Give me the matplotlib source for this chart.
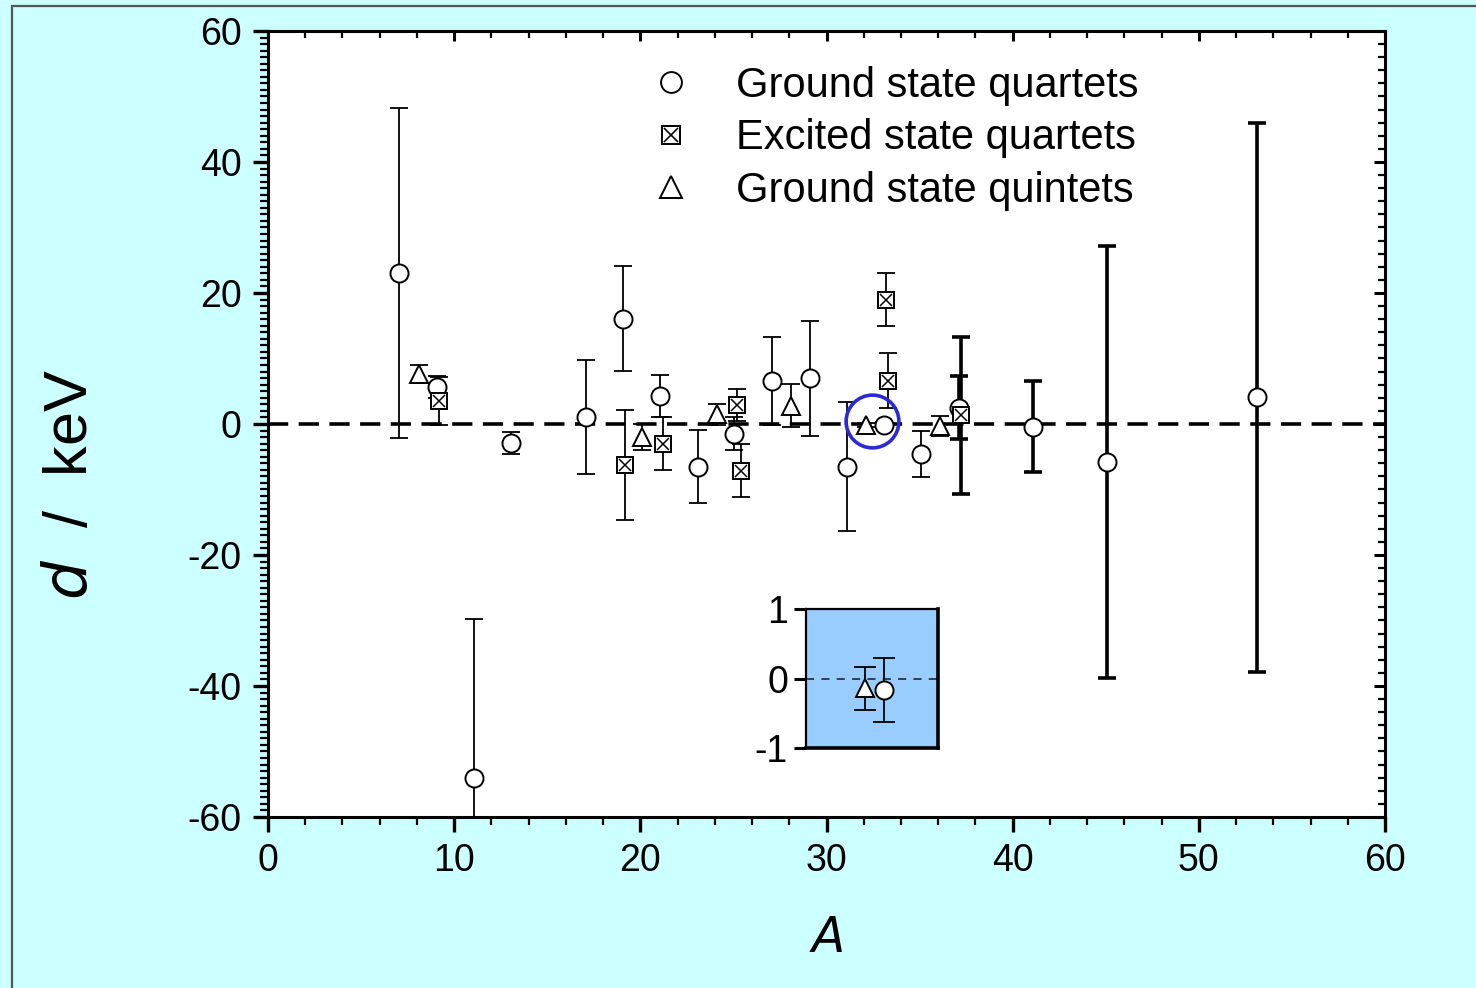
import numpy as np
import matplotlib.pyplot as plt
from matplotlib.lines import Line2D
from matplotlib.legend_handler import HandlerTuple
from matplotlib.patches import Rectangle
from matplotlib.ticker import MultipleLocator

plt.rcParams['font.family'] = ['Liberation Sans', 'DejaVu Sans']
plt.rcParams['axes.unicode_minus'] = False

# Ground state quartets
gsq_A = [7.05, 9.1, 11.05, 13.05, 17.1, 19.05, 21.05, 23.1, 25.05, 27.05,
         29.1, 31.1, 33.1, 35.1, 37.1, 41.1, 45.05, 53.1]
gsq_d = [23.0, 5.6, -54.0, -2.9, 1.1, 16.1, 4.3, -6.5, -1.5, 6.6,
         7.0, -6.5, -0.17, -4.6, 2.5, -0.4, -5.8, 4.1]
gsq_err = [25.2, 1.7, 24.2, 1.7, 8.7, 8.0, 3.2, 5.6, 2.5, 6.7,
           8.8, 9.9, 0.46, 3.5, 4.8, 7.0, 33.0, 41.9]

# Excited state quartets
exq_A = [9.2, 19.2, 21.2, 25.2, 25.4, 33.2, 33.3, 37.2]
exq_d = [3.5, -6.3, -3.0, 2.9, -7.1, 19.0, 6.6, 1.3]
exq_err = [3.6, 8.4, 4.0, 2.5, 4.1, 4.0, 4.2, 12.0]

# Ground state quintets
gsp_A = [8.1, 20.1, 24.1, 28.1, 32.1, 36.1]
gsp_d = [7.6, -2.0, 1.5, 2.8, -0.14, -0.3]
gsp_err = [1.4, 2.0, 1.6, 3.3, 0.31, 1.5]

# highlighted region (A=32, 33), blown up in the inset
ring_A, ring_d = 32.45, 0.4

W, H = 1476, 988
fig = plt.figure(figsize=(W / 100, H / 100), dpi=100)
fig.patch.set_facecolor('#ccffff')
fig.patches.append(Rectangle((12 / W, -0.05), 1.1, 1 - 6 / H + 0.05,
                             transform=fig.transFigure, fill=False,
                             edgecolor='#555555', lw=1.6))

ax = fig.add_axes([268 / W, 1 - 817 / H, 1117 / W, 786 / H])
ax.set_xlim(0, 60)
ax.set_ylim(-60, 60)


def bar_width(a):
    return 2.6 if a > 36.5 else 1.3


def draw_open(ax, A, d, err, marker, ms, xbox=False):
    for a, v, e in zip(A, d, err):
        lw = bar_width(a)
        ax.errorbar(a, v, yerr=e, fmt='none', ecolor='black', elinewidth=lw,
                    capsize=6.5, capthick=lw, zorder=2)
        ax.plot(a, v, marker=marker, ms=ms, mfc='white', mec='black',
                mew=1.4, ls='none', zorder=3)
        if xbox:
            ax.plot(a, v, marker='x', ms=ms * 0.75, mec='black', mew=1.1,
                    ls='none', zorder=4)


ax.axhline(0, color='black', lw=2.6, ls=(0, (5.6, 2.9)), zorder=1)
draw_open(ax, gsq_A, gsq_d, gsq_err, 'o', 13)
draw_open(ax, exq_A, exq_d, exq_err, 's', 11.5, xbox=True)
draw_open(ax, gsp_A, gsp_d, gsp_err, '^', 13.5)

ax.plot(ring_A, ring_d, marker='o', ms=38, mfc='none', mec='#2b2bd0',
        mew=2.6, ls='none', zorder=5)

# axes styling: outward ticks bottom/left, inward ticks top/right
for s in ax.spines.values():
    s.set_linewidth(2.2)
ax.xaxis.set_major_locator(MultipleLocator(10))
ax.xaxis.set_minor_locator(MultipleLocator(2))
ax.yaxis.set_major_locator(MultipleLocator(20))
ax.yaxis.set_minor_locator(MultipleLocator(1))
ax.tick_params(which='major', direction='out', length=11, width=2.4,
               labelsize=27, pad=8)
ax.tick_params(which='minor', direction='out', length=6, width=1.6)

top = ax.secondary_xaxis('top')
top.xaxis.set_major_locator(MultipleLocator(10))
top.xaxis.set_minor_locator(MultipleLocator(2))
top.tick_params(which='major', direction='in', length=7, width=2.2,
                labeltop=False)
top.tick_params(which='minor', direction='in', length=5, width=1.6)
right = ax.secondary_yaxis('right')
right.yaxis.set_major_locator(MultipleLocator(20))
right.yaxis.set_minor_locator(MultipleLocator(2))
right.tick_params(which='major', direction='in', length=8, width=2.2,
                  labelright=False)
right.tick_params(which='minor', direction='in', length=5, width=1.6)

ax.set_xlabel('$A$', fontsize=35, labelpad=27)
fig.text(72 / W, 1 - 485 / H, r'$d$  /  keV', rotation=90, fontsize=44,
         ha='center', va='center')

# legend
h_gsq = Line2D([], [], marker='o', ms=15, mfc='white', mec='black',
               mew=1.4, ls='none')
h_exq = (Line2D([], [], marker='s', ms=13, mfc='white', mec='black',
                mew=1.4, ls='none'),
         Line2D([], [], marker='x', ms=9.8, mec='black', mew=1.2, ls='none'))
h_gsp = Line2D([], [], marker='^', ms=15.5, mfc='white', mec='black',
               mew=1.4, ls='none')
fig.legend([h_gsq, h_exq, h_gsp],
           ['Ground state quartets', 'Excited state quartets',
            'Ground state quintets'],
           handler_map={tuple: HandlerTuple(ndivide=1)},
           loc='upper left', bbox_to_anchor=(654 / W, 1 - 66 / H),
           frameon=False, fontsize=30, borderpad=0, borderaxespad=0,
           handlelength=0.8, handletextpad=1.16, labelspacing=0.3)

# inset: zoom on the highlighted points
ins = fig.add_axes([806 / W, 1 - 748 / H, 132 / W, 139 / H])
ins.set_facecolor('#99ccff')
ins.set_xlim(28.9, 36.0)
ins.set_ylim(-1, 1)
ins.axhline(0, color='#333333', lw=1.3, ls=(0, (4.5, 4)), zorder=1)
sel_q = [i for i, (a, v) in enumerate(zip(gsq_A, gsq_d)) if 29 < a < 36 and abs(v) < 1]
sel_p = [i for i, (a, v) in enumerate(zip(gsp_A, gsp_d)) if 29 < a < 36 and abs(v) < 1]
for idx, (A, d, err, mk, ms) in [(sel_q, (gsq_A, gsq_d, gsq_err, 'o', 13)),
                                 (sel_p, (gsp_A, gsp_d, gsp_err, '^', 13.5))]:
    for i in idx:
        ins.errorbar(A[i], d[i], yerr=err[i], fmt='none', ecolor='black',
                     elinewidth=1.3, capsize=8, capthick=1.3, zorder=2)
        ins.plot(A[i], d[i], marker=mk, ms=ms, mfc='white', mec='black',
                 mew=1.4, ls='none', zorder=3)
ins.set_xticks([])
ins.set_yticks([-1, 0, 1])
ins.set_yticklabels(['-1', '0', '1'])
ins.tick_params(axis='y', direction='out', length=9, width=2.2,
                labelsize=27, pad=4)
ins.spines['left'].set_linewidth(1.6)
ins.spines['top'].set_linewidth(1.6)
ins.spines['right'].set_linewidth(2.6)
ins.spines['bottom'].set_linewidth(2.6)

fig.savefig('out.png', dpi=100, facecolor=fig.get_facecolor())
